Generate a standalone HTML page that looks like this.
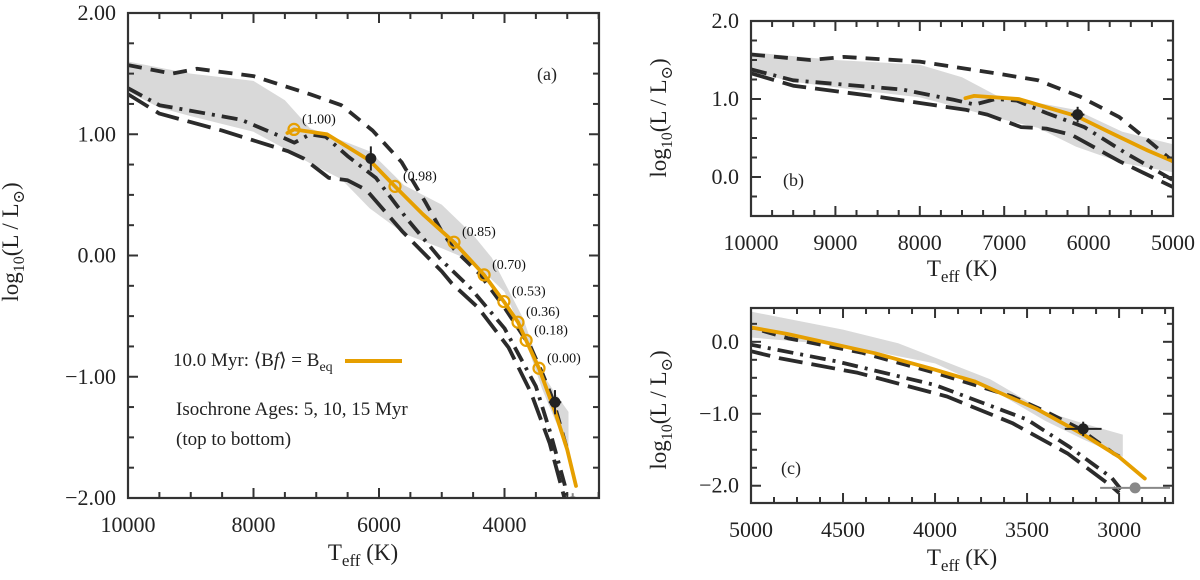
<!DOCTYPE html>
<html><head><meta charset="utf-8"><style>
html,body{margin:0;padding:0;background:#fff;}
svg, svg text{font-family:"Liberation Serif","DejaVu Serif",serif;}
</style></head><body>
<svg id="fig" width="1200" height="575" viewBox="0 0 1200 575" font-family="Liberation Serif, DejaVu Serif, serif" xmlns="http://www.w3.org/2000/svg"></svg>
<script>
// ---- data (Teff K, log10 L/Lsun) ----
const bandT     = [10000,9500,9000,8000,7500,7100,6600,6150,5600,5000,4500,4200,4000,3700,3400,3200,2980];
const bandUpper = [1.60,1.55,1.50,1.44,1.28,1.05,0.95,0.86,0.58,0.42,0.17,-0.02,-0.22,-0.52,-0.97,-1.13,-1.29];
const bandLower = [1.35,1.22,1.15,1.02,0.88,0.76,0.63,0.39,0.18,0.06,-0.05,-0.20,-0.30,-0.65,-1.10,-1.35,-1.60];

const iso5T = [10000,9300,8900,8000,7100,6600,6100,5640,5250,5000,4800,4400,4000,3580,3390,3220,3030,2980];
const iso5L = [1.57,1.50,1.54,1.48,1.33,1.24,1.03,0.77,0.43,0.20,0.05,-0.15,-0.43,-0.76,-0.98,-1.20,-1.55,-1.62];
const iso10T = [10000,9500,8200,7600,7350,7100,6850,6500,6050,5550,5000,4540,4000,3500,3270,3040,2990];
const iso10L = [1.38,1.24,1.12,0.99,0.93,1.00,0.98,0.82,0.64,0.30,-0.04,-0.27,-0.60,-1.08,-1.46,-1.89,-2.05];
const iso15T = [10000,9500,8500,7450,7200,6800,6500,6200,5630,5000,4840,4420,3935,3580,3280,3050,3000];
const iso15L = [1.33,1.17,1.03,0.86,0.80,0.64,0.62,0.54,0.20,-0.13,-0.23,-0.43,-0.76,-1.13,-1.55,-1.99,-2.10];

const magT = [7460,7355,6830,6140,5745,5300,4805,4325,4010,3785,3655,3450,3200,3000,2860];
const magL = [1.01,1.04,1.00,0.78,0.57,0.34,0.11,-0.16,-0.38,-0.55,-0.70,-0.93,-1.28,-1.60,-1.90];

const circT = [7355,5745,4805,4325,4010,3785,3655,3450];
const circL = [1.04,0.57,0.11,-0.16,-0.38,-0.55,-0.70,-0.93];
const circLabels = ["(1.00)","(0.98)","(0.85)","(0.70)","(0.53)","(0.36)","(0.18)","(0.00)"];

const starT = [6130,3195];
const starL = [0.80,-1.21];
const starTerr = [80,100];
const starLerr = [0.10,0.10];
const grayT = [2913];
const grayL = [-2.03];
const grayTerr = [190];
const grayLerr = [0.07];

const NS="http://www.w3.org/2000/svg";
const svg=document.getElementById('fig');
const FF='Liberation Serif, DejaVu Serif, serif';
function mk(tag,attrs,parent){const e=document.createElementNS(NS,tag);for(const k in attrs)e.setAttribute(k,attrs[k]);if(tag==='text')e.setAttribute('font-family',FF);(parent||svg).appendChild(e);return e;}

const panels=[
 {id:'a',x0:128,x1:599,y0:13,y1:498,T0:10000,T1:2494,L0:2.0,L1:-2.0,
  xMaj:2000,xMin:500,xLab:[10000,8000,6000,4000],yLab:[2,1,0,-1,-2],yFmt:2,
  ylx:18,yly:242,xlx:363,xly:560,tag:'(a)',tagx:537,tagy:80,circles:true},
 {id:'b',x0:751,x1:1173,y0:21,y1:216,T0:10000,T1:5000,L0:2.0,L1:-0.5,
  xMaj:1000,xMin:250,xLab:[10000,9000,8000,7000,6000,5000],yLab:[2,1,0],yFmt:1,
  ylx:666,yly:118,xlx:962,xly:276,tag:'(b)',tagx:783,tagy:186,circles:false},
 {id:'c',x0:751,x1:1173,y0:308,y1:503,T0:5000,T1:2707,L0:0.47,L1:-2.24,
  xMaj:500,xMin:125,xLab:[5000,4500,4000,3500,3000],yLab:[0,-1,-2],yFmt:1,
  ylx:666,yly:410,xlx:962,xly:565,tag:'(c)',tagx:781,tagy:474,circles:false}
];

function fmt(v,d){return (v<0?'\u2212':'')+Math.abs(v).toFixed(d);}

panels.forEach(p=>{
  const g=mk('g',{});
  
  
  const xs=T=>p.x0+(p.T0-T)/(p.T0-p.T1)*(p.x1-p.x0);
  const ys=L=>p.y0+(p.L0-L)/(p.L0-p.L1)*(p.y1-p.y0);
  const cid='clip'+p.id;
  const cp=mk('clipPath',{id:cid},g);
  mk('rect',{x:p.x0,y:p.y0,width:p.x1-p.x0,height:p.y1-p.y0},cp);
  const plot=mk('g',{'clip-path':'url(#'+cid+')'},g);
  let d='M'+bandT.map((t,i)=>xs(t).toFixed(1)+','+ys(bandUpper[i]).toFixed(1)).join('L');
  for(let i=bandT.length-1;i>=0;i--) d+='L'+xs(bandT[i]).toFixed(1)+','+ys(bandLower[i]).toFixed(1);
  const band=mk('path',{d:d+'Z',fill:'#d9d9d9',stroke:'none'},plot);
  
  
  const poly=(T,L)=>T.map((t,i)=>xs(t).toFixed(1)+','+ys(L[i]).toFixed(1)).join(' ');
  const l5=mk('polyline',{points:poly(iso5T,iso5L),fill:'none',stroke:'#2b2b2b','stroke-width':3.8,'stroke-dasharray':'14 9','stroke-linejoin':'round'},plot);
  
  
  const l10=mk('polyline',{points:poly(iso10T,iso10L),fill:'none',stroke:'#2b2b2b','stroke-width':3.8,'stroke-dasharray':'16 7 3 7','stroke-linejoin':'round'},plot);
  
  
  const l15=mk('polyline',{points:poly(iso15T,iso15L),fill:'none',stroke:'#2b2b2b','stroke-width':3.8,'stroke-dasharray':'24 9','stroke-linejoin':'round'},plot);
  
  
  const om=mk('polyline',{points:poly(magT,magL),fill:'none',stroke:'#E69F00','stroke-width':3.8,'stroke-linejoin':'round','stroke-linecap':'round'},plot);
  
  
  if(p.circles){
    circT.forEach((t,i)=>{
      const c=mk('circle',{cx:xs(t),cy:ys(circL[i]),r:5.5,fill:'none',stroke:'#E69F00','stroke-width':2.2},plot);
      
      
      const tx=mk('text',{x:xs(t)+8,y:ys(circL[i])-6,'font-size':14,fill:'#111'},g);
      tx.textContent=circLabels[i];
      
      
    });
  }
  const drawPt=(T,L,Te,Le,col,name)=>{
    T.forEach((t,i)=>{
      const cx=xs(t),cy=ys(L[i]);
      mk('line',{x1:xs(t+Te[i]),x2:xs(t-Te[i]),y1:cy,y2:cy,stroke:col,'stroke-width':2},plot);
      mk('line',{x1:cx,x2:cx,y1:ys(L[i]+Le[i]),y2:ys(L[i]-Le[i]),stroke:col,'stroke-width':2},plot);
      const c=mk('circle',{cx:cx,cy:cy,r:5.5,fill:col},plot);
      
      
    });
  };
  drawPt(starT,starL,starTerr,starLerr,'#222','observed-star');
  drawPt(grayT,grayL,grayTerr,grayLerr,'#888','companion-star');
  const fr=mk('rect',{x:p.x0,y:p.y0,width:p.x1-p.x0,height:p.y1-p.y0,fill:'none',stroke:'#333','stroke-width':2.2},g);
  
  
  const tk=(x1,y1,x2,y2)=>mk('line',{x1,y1,x2,y2,stroke:'#333','stroke-width':2},g);
  const Tmin=Math.min(p.T0,p.T1),Tmax=Math.max(p.T0,p.T1);
  for(let t=Math.ceil(Tmin/p.xMin)*p.xMin;t<=Tmax;t+=p.xMin){
    const maj=Math.abs(t/p.xMaj-Math.round(t/p.xMaj))<1e-6;const len=maj?10:6;const x=xs(t);
    tk(x,p.y1,x,p.y1-len);tk(x,p.y0,x,p.y0+len);
  }
  for(let l=Math.ceil(p.L1/0.25)*0.25;l<=p.L0+1e-9;l+=0.25){
    const maj=Math.abs(l-Math.round(l))<1e-6;const len=maj?10:6;const y=ys(l);
    tk(p.x0,y,p.x0+len,y);tk(p.x1,y,p.x1-len,y);
  }
  p.xLab.forEach(t=>{const e=mk('text',{x:xs(t),y:p.y1+34,'font-size':22,'text-anchor':'middle',fill:'#222'},g);e.textContent=t;
    });
  p.yLab.forEach(l=>{const e=mk('text',{x:p.x0-12,y:ys(l)+7,'font-size':22,'text-anchor':'end',fill:'#222'},g);e.textContent=fmt(l,p.yFmt);
    });
  const xl=mk('text',{x:p.xlx,y:p.xly,'font-size':23,'text-anchor':'middle',fill:'#222'},g);
  xl.innerHTML='T<tspan font-size="17" dy="6">eff</tspan><tspan dy="-6"> (K)</tspan>';
  
  const yl=mk('text',{x:0,y:0,'font-size':23,'text-anchor':'middle',fill:'#222',transform:'translate('+p.ylx+','+p.yly+') rotate(-90)'},g);
  yl.innerHTML='log<tspan font-size="16" dy="6">10</tspan><tspan dy="-6">(L / L</tspan><tspan font-size="16" dy="6">\u2299</tspan><tspan dy="-6">)</tspan>';
  
  const tg=mk('text',{x:p.tagx,y:p.tagy,'font-size':18,fill:'#222'},g);tg.textContent=p.tag;
  
  if(p.id==='a'){
    const lg=mk('text',{x:173,y:366,'font-size':19,fill:'#222'},g);
    lg.innerHTML='10.0 Myr: \u27E8B<tspan font-style="italic">f</tspan>\u27E9 = B<tspan font-size="14" dy="5">eq</tspan>';
    
    const ll=mk('line',{x1:345,x2:402,y1:361,y2:361,stroke:'#E69F00','stroke-width':4},g);
    
    const n1=mk('text',{x:176,y:415,'font-size':19,fill:'#222'},g);n1.textContent='Isochrone Ages: 5, 10, 15 Myr';
    
    const n2=mk('text',{x:176,y:445,'font-size':19,fill:'#222'},g);n2.textContent='(top to bottom)';
    
  }
});
</script>
</body></html>
